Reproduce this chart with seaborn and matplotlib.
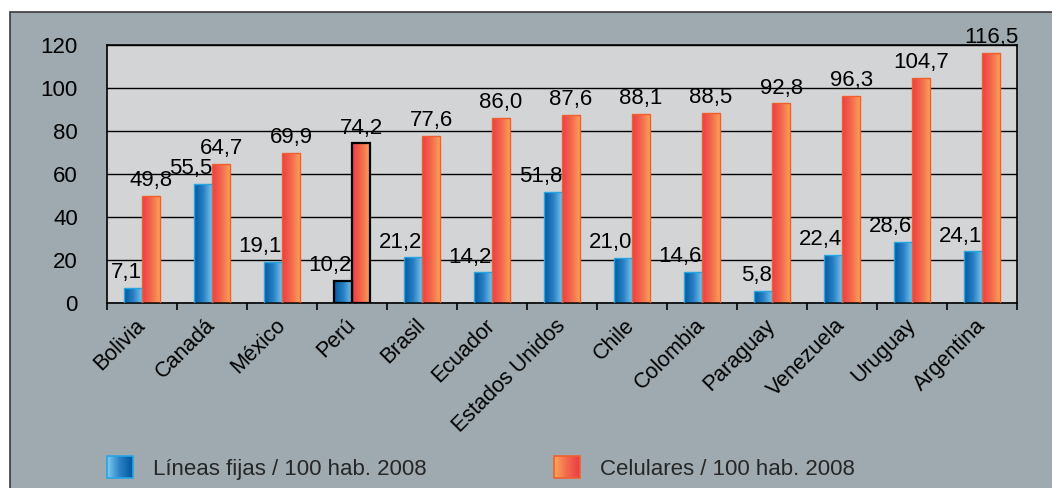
import numpy as np
import pandas as pd
import matplotlib
matplotlib.use("Agg")
import matplotlib.pyplot as plt
import seaborn as sns
from matplotlib.patches import Rectangle
from matplotlib.legend_handler import HandlerBase
from matplotlib.colors import LinearSegmentedColormap

# ---------------- data ----------------
countries = ["Bolivia", "Canadá", "México", "Perú", "Brasil", "Ecuador",
             "Estados Unidos", "Chile", "Colombia", "Paraguay", "Venezuela",
             "Uruguay", "Argentina"]
lineas_fijas = [7.1, 55.5, 19.1, 10.2, 21.2, 14.2, 51.8, 21.0, 14.6, 5.8, 22.4, 28.6, 24.1]
celulares = [49.8, 64.7, 69.9, 74.2, 77.6, 86.0, 87.6, 88.1, 88.5, 92.8, 96.3, 104.7, 116.5]
series_names = ["Líneas fijas / 100 hab. 2008", "Celulares / 100 hab. 2008"]
y_ticks = [0, 20, 40, 60, 80, 100, 120]
highlight = "Perú"

df = pd.DataFrame({
    "País": countries * 2,
    "Serie": [series_names[0]] * len(countries) + [series_names[1]] * len(countries),
    "Valor": lineas_fijas + celulares,
})

# ---------------- style ----------------
sns.set_theme(style="white")
plt.rcParams["font.family"] = ["Liberation Sans", "DejaVu Sans"]

W, H = 1052, 488
fig = plt.figure(figsize=(W / 100, H / 100), dpi=100)
fig.patch.set_facecolor("white")

panel_color = "#9eaab0"
plot_bg = "#d3d4d6"
blue_cmap = LinearSegmentedColormap.from_list("b", ["#0058a0", "#2a80c4", "#7ccbf0"])
red_cmap = LinearSegmentedColormap.from_list("r", ["#ec3c46", "#f3694c", "#fba65a"])
edge_colors = ["#25a6e4", "#f0602e"]

panel = Rectangle((10 / W, -0.01), 1.0, (H - 12) / H + 0.01, transform=fig.transFigure,
                  facecolor=panel_color, edgecolor="#3a3a3a", lw=1.2, zorder=-10)
fig.add_artist(panel)

ax = fig.add_axes([107 / W, 185 / H, 910 / W, 258 / H])
ax.set_facecolor(plot_bg)

sns.barplot(data=df, x="País", y="Valor", hue="Serie", order=countries,
            hue_order=series_names, palette=["#2a80c4", "#f3694c"],
            width=0.52, gap=0, saturation=1, legend=False, ax=ax)

grad = np.linspace(0, 1, 256).reshape(1, -1)
for ci, (cont, cmap) in enumerate(zip(ax.containers, [blue_cmap, red_cmap])):
    for bar, name in zip(cont.patches, countries):
        x, w, h = bar.get_x(), bar.get_width(), bar.get_height()
        bar.set_facecolor("none")
        if name == highlight:
            bar.set_edgecolor("black")
            bar.set_linewidth(1.6)
        else:
            bar.set_edgecolor(edge_colors[ci])
            bar.set_linewidth(1.0)
        bar.set_zorder(3)
        im = ax.imshow(grad, extent=(x, x + w, 0, h), cmap=cmap, aspect="auto",
                       origin="lower", zorder=2.5, interpolation="bilinear")
        im.set_clip_path(bar)
        label = f"{h:.1f}".replace(".", ",")
        if ci == 0:
            ax.text(x + w, h + 4.5, label, ha="right", va="baseline",
                    fontsize=16, color="black", zorder=4, clip_on=False)
        else:
            ax.text(x + w / 2, h + 4.5, label, ha="center", va="baseline",
                    fontsize=16, color="black", zorder=4, clip_on=False)

ax.set_xlim(-0.5, len(countries) - 0.5)
ax.set_ylim(0, 120)

# grid & axes
ax.set_axisbelow(True)
ax.yaxis.grid(True, color="black", lw=1.0)
ax.xaxis.grid(False)
ax.set_yticks(y_ticks)
ax.set_yticklabels([str(v) for v in y_ticks])
ax.tick_params(axis="y", length=0, pad=21, labelsize=16, colors="black")
ax.set_xticks(range(len(countries)))
ax.set_xticks(np.arange(-0.5, len(countries), 1.0), minor=True)
ax.set_xticklabels(countries, rotation=45, ha="right", va="center",
                   rotation_mode="anchor", fontsize=15.5)
ax.tick_params(axis="x", which="major", length=0, pad=14, colors="black")
ax.tick_params(axis="x", which="minor", length=5, width=1.2, direction="out",
               color="black", bottom=True)
ax.set_xlabel("")
ax.set_ylabel("")
for s in ax.spines.values():
    s.set_visible(True)
    s.set_color("black")
    s.set_linewidth(1.2)


# ---------------- legend with gradient swatches ----------------
class GradientHandler(HandlerBase):
    def __init__(self, cmap, edge, reverse=True, n=40):
        super().__init__()
        self.cmap, self.edge, self.reverse, self.n = cmap, edge, reverse, n

    def create_artists(self, legend, orig_handle, xdescent, ydescent, width,
                       height, fontsize, trans):
        arts = []
        x0, y0 = -xdescent, -ydescent
        sw = width / self.n
        for i in range(self.n):
            t = i / (self.n - 1)
            if self.reverse:
                t = 1 - t
            arts.append(Rectangle((x0 + i * sw, y0), sw * 1.05, height,
                                  facecolor=self.cmap(t), lw=0,
                                  antialiased=False, transform=trans))
        arts.append(Rectangle((x0, y0), width, height, facecolor="none",
                              edgecolor=self.edge, lw=1.2, transform=trans))
        return arts


proxy_b = Rectangle((0, 0), 1, 1)
proxy_r = Rectangle((0, 0), 1, 1)
fig.legend([proxy_b, proxy_r], series_names,
           handler_map={proxy_b: GradientHandler(blue_cmap, edge_colors[0]),
                        proxy_r: GradientHandler(red_cmap, edge_colors[1])},
           loc="center left", bbox_to_anchor=(107 / W, (H - 468) / H),
           ncol=2, frameon=False, fontsize=16, handlelength=1.15,
           handleheight=1.15, handletextpad=0.9, columnspacing=5.75,
           borderpad=0, borderaxespad=0)

fig.savefig("out.png", dpi=100, facecolor=fig.get_facecolor())
